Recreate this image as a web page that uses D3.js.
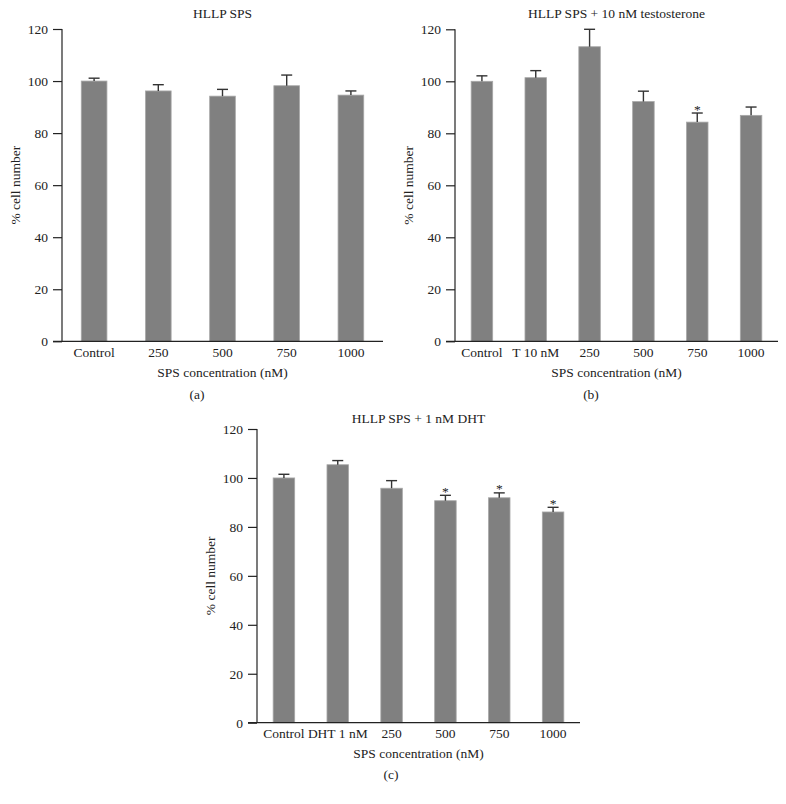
<!DOCTYPE html>
<html lang="en">
<head>
<meta charset="UTF-8">
<title>HLLP SPS cell number</title>
<script src="https://d3js.org/d3.v7.min.js"></script>
<style>
    body {
        margin: 0;
        background: #fff;
    }
    svg {
        display: block;
        font-family: "Liberation Serif", "DejaVu Serif", serif;
    }
    .axis text {
        font-family: "Liberation Serif", "DejaVu Serif", serif;
        font-size: 13.5px;
        fill: #222;
    }
    .axis line, .axis-line {
        stroke: #222;
        stroke-width: 1.2px;
    }
    .bar {
        fill: #808080;
        stroke: #a8a8a8;
        stroke-width: 0.8px;
    }
    .err {
        stroke: #333;
        stroke-width: 1.4px;
    }
    .lbl {
        font-size: 13.5px;
        fill: #222;
    }
</style>
</head>
<body>
<div id="chart"></div>
<script>
    // panel (a)
    const catsA = ["Control", "250", "500", "750", "1000"];
    const meanA = [100, 96.2, 94.2, 98.2, 94.6];
    const errA = [1.1, 2.4, 2.6, 4.1, 1.6];
    const sigA = [false, false, false, false, false];

    // panel (b)
    const catsB = ["Control", "T 10 nM", "250", "500", "750", "1000"];
    const meanB = [100, 101.4, 113.3, 92.2, 84.3, 86.9];
    const errB = [2.1, 2.7, 6.7, 4.0, 3.5, 3.2];
    const sigB = [false, false, false, false, true, false];

    // panel (c)
    const catsC = ["Control", "DHT 1 nM", "250", "500", "750", "1000"];
    const meanC = [100, 105.4, 95.8, 90.7, 91.9, 86.1];
    const errC = [1.5, 1.7, 3.1, 2.2, 2.0, 1.9];
    const sigC = [false, false, false, true, true, true];

    const yTicks = [0, 20, 40, 60, 80, 100, 120];

    const svg = d3.select("#chart")
        .append("svg")
        .attr("width", 786)
        .attr("height", 804);

    function drawPanel(p) {
        const g = svg.append("g");

        const x = d3.scaleBand()
            .domain(p.cats)
            .range([p.x0, p.x1])
            .paddingInner(0.6)
            .paddingOuter(0.3);

        const y = d3.scaleLinear()
            .domain([0, 120])
            .range([p.y0, p.y1]);

        const data = p.cats.map((c, i) => ({ cat: c, mean: p.mean[i], err: p.err[i], sig: p.sig[i] }));

        // y axis
        const yAxis = g.append("g")
            .attr("class", "axis")
            .attr("transform", `translate(${p.x0},0)`)
            .call(d3.axisLeft(y).tickValues(yTicks).tickSize(9).tickSizeOuter(0).tickPadding(5));
        yAxis.select(".domain").remove();

        g.append("line")
            .attr("class", "axis-line")
            .attr("x1", p.x0).attr("x2", p.x0)
            .attr("y1", y(0)).attr("y2", y(120));

        // bars
        g.selectAll(".bar")
            .data(data)
            .enter()
            .append("rect")
            .attr("class", "bar")
            .attr("x", d => x(d.cat))
            .attr("width", x.bandwidth())
            .attr("y", d => y(d.mean))
            .attr("height", d => y(0) - y(d.mean));

        // error bars (upper only)
        const eb = g.selectAll(".eb")
            .data(data)
            .enter()
            .append("g");
        eb.append("line")
            .attr("class", "err")
            .attr("x1", d => x(d.cat) + x.bandwidth() / 2)
            .attr("x2", d => x(d.cat) + x.bandwidth() / 2)
            .attr("y1", d => y(d.mean))
            .attr("y2", d => y(d.mean + d.err));
        eb.append("line")
            .attr("class", "err")
            .attr("x1", d => x(d.cat) + x.bandwidth() / 2 - 5.5)
            .attr("x2", d => x(d.cat) + x.bandwidth() / 2 + 5.5)
            .attr("y1", d => y(d.mean + d.err))
            .attr("y2", d => y(d.mean + d.err));

        // significance stars
        g.selectAll(".star")
            .data(data.filter(d => d.sig))
            .enter()
            .append("text")
            .attr("class", "lbl")
            .attr("text-anchor", "middle")
            .attr("x", d => x(d.cat) + x.bandwidth() / 2)
            .attr("y", d => y(d.mean + d.err) + 0.5)
            .text("*");

        // x axis
        const xAxis = g.append("g")
            .attr("class", "axis")
            .attr("transform", `translate(0,${y(0)})`)
            .call(d3.axisBottom(x).tickSize(0).tickPadding(6));
        xAxis.select(".domain").remove();

        g.append("line")
            .attr("class", "axis-line")
            .attr("x1", p.x0 - 9).attr("x2", p.x1)
            .attr("y1", y(0)).attr("y2", y(0));

        // titles and labels
        const cx = (p.x0 + p.x1) / 2;
        g.append("text")
            .attr("class", "lbl")
            .attr("text-anchor", "middle")
            .attr("x", cx).attr("y", p.titleY)
            .text(p.title);

        g.append("text")
            .attr("class", "lbl")
            .attr("text-anchor", "middle")
            .attr("x", cx).attr("y", p.xLabelY)
            .text("SPS concentration (nM)");

        g.append("text")
            .attr("class", "lbl")
            .attr("text-anchor", "middle")
            .attr("transform", `translate(${p.x0 - 42.5},${(p.y0 + p.y1) / 2}) rotate(-90)`)
            .text("% cell number");

        g.append("text")
            .attr("class", "lbl")
            .attr("text-anchor", "middle")
            .attr("x", p.tagX).attr("y", p.tagY)
            .text(p.tag);
    }

    drawPanel({
        cats: catsA, mean: meanA, err: errA, sig: sigA,
        x0: 62, x1: 383, y0: 341.3, y1: 29,
        title: "HLLP SPS", titleY: 17.5, xLabelY: 377,
        tag: "(a)", tagX: 197, tagY: 399
    });

    drawPanel({
        cats: catsB, mean: meanB, err: errB, sig: sigB,
        x0: 455, x1: 778, y0: 341.3, y1: 29.3,
        title: "HLLP SPS + 10 nM testosterone", titleY: 18, xLabelY: 377,
        tag: "(b)", tagX: 591, tagY: 399
    });

    drawPanel({
        cats: catsC, mean: meanC, err: errC, sig: sigC,
        x0: 257, x1: 580, y0: 722.7, y1: 429,
        title: "HLLP SPS + 1 nM DHT", titleY: 422.5, xLabelY: 758,
        tag: "(c)", tagX: 391, tagY: 779
    });
</script>
</body>
</html>
